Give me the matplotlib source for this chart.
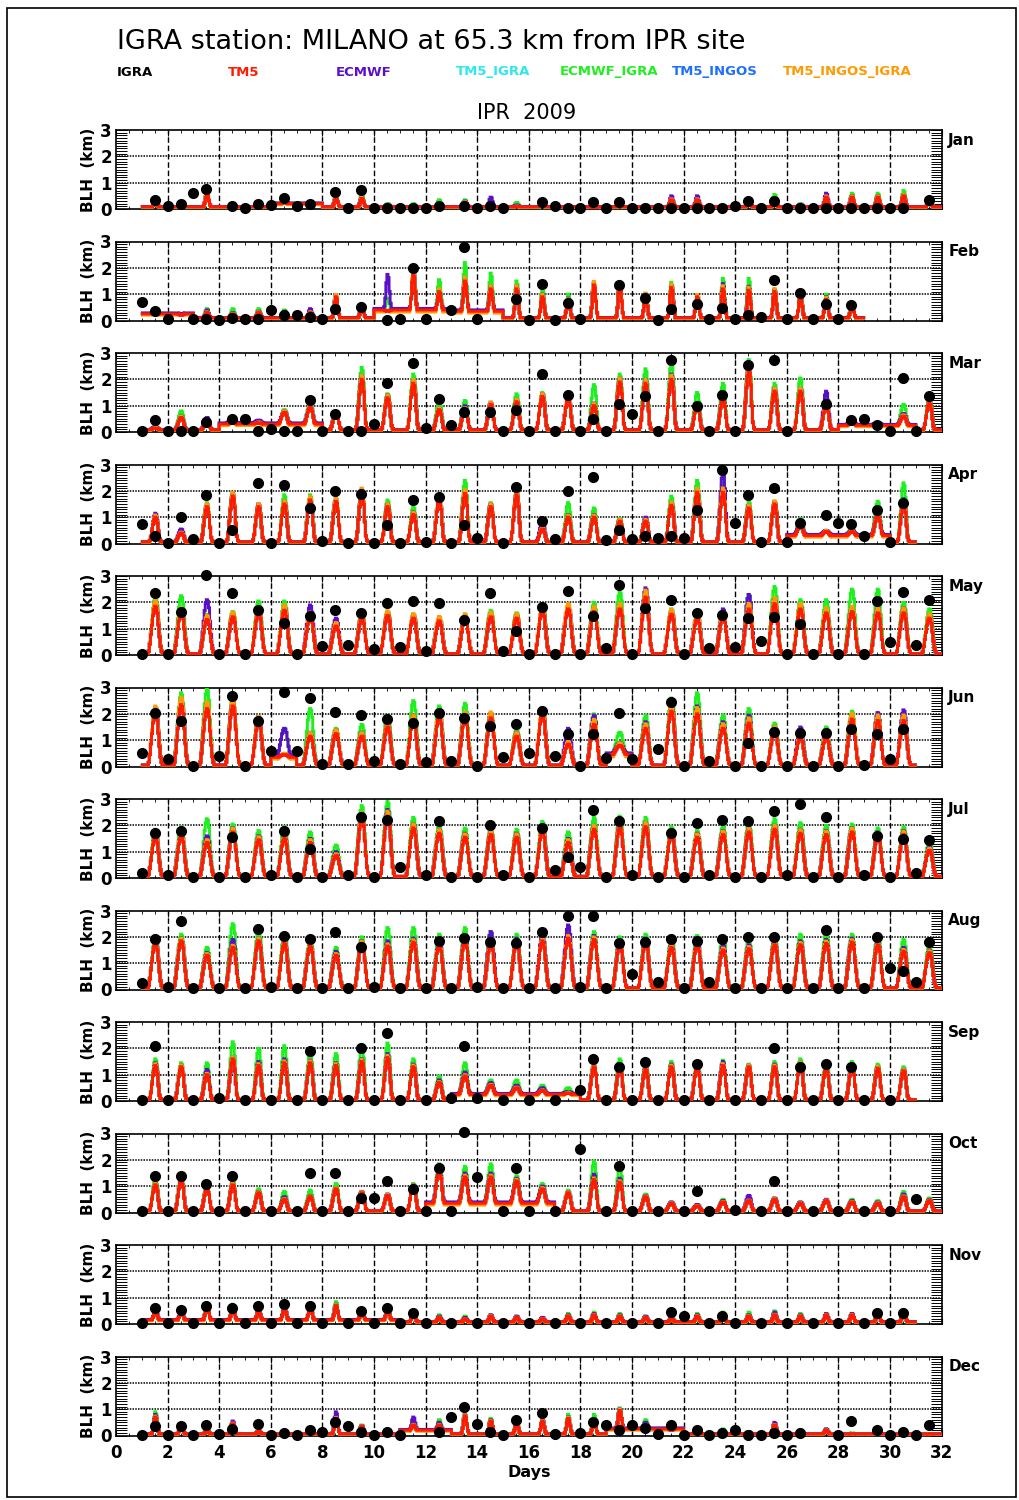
import numpy as np
import matplotlib.pyplot as plt
from matplotlib.ticker import MultipleLocator
from matplotlib.patches import Rectangle

nan = np.nan

MONTHS = ["Jan", "Feb", "Mar", "Apr", "May", "Jun",
          "Jul", "Aug", "Sep", "Oct", "Nov", "Dec"]
DAYS_IN_MONTH = [31, 28, 31, 30, 31, 30, 31, 31, 30, 31, 30, 31]

# daily afternoon maximum of boundary layer height (km), one row per month
TM5_PEAK = [
    [0.25,0.1,0.55,0.15,0.15,0.25,0.2,0.4,0.4,0.15,0.1,0.15,0.25,0.15,0.1,0.15,0.1,0.05,0.1,0.1,0.35,0.35,0.1,0.25,0.3,0.15,0.45,0.45,0.45,0.5,0.35],
    [0.25,0.2,0.3,0.25,0.3,0.25,0.3,0.9,0.5,0.35,1.8,1.1,1.5,1.2,1.2,0.9,0.75,1.35,1.35,0.95,1.25,0.9,1.2,1.15,1.1,0.95,0.8,0.55],
    [0.15,0.55,0.35,0.35,0.35,0.75,0.95,0.7,2.0,1.3,1.85,0.85,0.85,1.05,1.15,1.35,1.3,1.0,1.9,1.85,2.0,1.0,1.25,2.35,1.55,1.55,1.0,0.35,0.3,0.6,1.1],
    [1.0,0.4,1.4,1.8,1.4,1.5,1.65,1.6,1.95,1.4,1.1,1.7,1.9,1.4,1.85,0.55,1.0,1.0,0.85,0.85,1.45,1.95,1.95,1.35,1.5,0.65,0.45,0.45,1.05,1.55],
    [1.85,1.6,1.35,1.45,1.6,1.7,1.45,1.1,1.4,1.5,1.4,1.3,1.4,1.45,1.4,1.7,1.75,1.65,1.75,2.2,1.55,1.4,1.45,1.75,1.95,1.75,1.6,1.65,1.6,1.6,1.4],
    [2.05,2.35,2.2,2.3,1.7,0.45,1.15,1.25,1.15,1.5,1.75,1.9,1.85,1.85,1.15,2.0,0.85,1.6,0.8,1.45,2.1,2.0,1.45,1.65,1.35,1.1,1.1,1.8,1.75,1.75],
    [1.55,1.6,1.35,1.75,1.45,1.5,1.35,0.85,2.3,2.35,1.9,1.7,1.55,1.65,1.55,1.8,1.35,1.85,1.95,1.95,1.65,1.55,1.65,1.75,1.85,1.7,1.65,1.75,1.6,1.65,1.05],
    [1.75,1.85,1.3,1.6,1.85,1.75,1.65,1.3,1.75,1.65,1.8,1.7,1.85,1.75,1.8,1.85,1.95,1.9,1.7,1.8,1.6,1.7,1.5,1.55,1.7,1.7,1.75,1.8,1.7,1.45,1.4],
    [1.35,1.3,1.0,1.6,1.35,1.45,1.45,1.35,1.5,1.65,1.3,0.7,0.95,0.6,0.5,0.4,0.3,1.3,1.3,1.2,1.3,1.3,1.35,1.3,1.3,1.4,1.25,1.3,1.25,1.15],
    [1.05,1.25,0.9,1.05,0.75,0.5,0.6,0.9,0.75,0.65,1.0,1.6,1.35,1.35,1.2,0.9,0.75,1.25,1.15,0.6,0.35,0.25,0.4,0.45,0.5,0.35,0.45,0.4,0.35,0.6,0.45],
    [0.5,0.5,0.7,0.6,0.45,0.6,0.65,0.7,0.45,0.55,0.4,0.25,0.2,0.3,0.25,0.2,0.3,0.35,0.3,0.25,0.2,0.3,0.35,0.3,0.35,0.3,0.35,0.35,0.4,0.45],
    [0.7,0.35,0.15,0.45,0.15,0.05,0.1,0.65,0.35,0.1,0.4,0.4,0.75,0.55,0.45,0.55,0.65,0.55,0.95,0.4,0.2,0.1,0.15,0.1,0.4,0.15,0.2,0.05,0.1,0.05,0.05],
]

ECMWF_PEAK = [
    [0.25,0.12,0.6,0.18,0.18,0.28,0.25,0.45,0.45,0.18,0.15,0.2,0.3,0.45,0.15,0.18,0.12,0.08,0.12,0.15,0.5,0.5,0.12,0.3,0.35,0.18,0.6,0.5,0.5,0.55,0.4],
    [0.3,0.25,0.4,0.3,0.35,0.35,0.45,0.95,0.55,1.75,1.7,1.0,1.6,1.3,1.3,1.0,0.85,1.4,1.4,1.0,1.35,0.95,1.4,1.3,1.15,1.0,0.9,0.6],
    [0.2,0.6,0.55,0.6,0.45,0.8,1.0,0.75,2.1,1.4,1.9,0.9,1.0,1.1,1.2,1.45,1.35,1.1,2.0,2.0,2.2,1.1,1.4,2.45,1.6,1.65,1.55,0.45,0.35,0.7,1.2],
    [1.15,0.55,1.45,1.85,1.5,1.6,1.7,1.65,1.95,1.5,1.2,1.75,1.95,1.5,1.9,0.8,1.1,1.1,0.9,1.0,1.55,2.05,2.75,1.45,1.55,0.75,0.5,0.5,1.2,1.7],
    [1.9,1.7,2.1,1.5,1.7,1.8,1.9,1.4,1.5,1.55,1.45,1.35,1.45,1.5,1.5,1.75,1.8,1.75,1.85,2.55,1.6,1.5,1.75,2.3,2.1,1.85,1.7,1.8,1.8,1.8,1.5],
    [2.1,2.5,2.4,2.45,1.9,1.45,1.3,1.4,1.3,1.7,1.95,2.05,2.0,2.0,1.3,2.1,1.45,1.95,0.9,1.7,2.4,2.3,1.7,1.95,1.5,1.5,1.3,1.9,2.05,2.15],
    [1.7,1.75,1.6,1.9,1.6,1.65,1.5,1.0,2.45,2.6,2.05,1.85,1.7,1.75,1.7,1.95,1.5,2.0,2.1,2.1,1.8,1.7,1.8,1.9,2.0,1.85,1.8,1.9,1.75,1.8,1.2],
    [1.85,1.95,1.4,1.9,1.95,1.85,1.75,1.45,1.85,1.85,1.95,1.85,2.05,2.2,1.95,2.1,2.45,2.05,1.85,1.95,1.75,1.85,1.7,1.7,1.85,1.85,1.9,1.95,1.85,1.6,1.5],
    [1.45,1.35,1.2,1.5,1.5,1.6,1.55,1.45,1.6,1.8,1.4,0.8,1.1,0.7,0.6,0.5,0.35,1.35,1.35,1.3,1.4,1.4,1.5,1.35,1.4,1.45,1.35,1.4,1.3,1.2],
    [1.1,1.3,0.95,1.1,0.8,0.6,0.65,0.95,0.8,0.7,1.05,1.7,1.5,1.5,1.3,1.0,0.8,1.45,1.3,0.65,0.4,0.3,0.45,0.65,0.55,0.4,0.5,0.45,0.4,0.7,0.5],
    [0.55,0.55,0.75,0.65,0.55,0.7,0.7,0.75,0.5,0.6,0.45,0.3,0.25,0.35,0.3,0.25,0.35,0.4,0.35,0.3,0.25,0.35,0.4,0.35,0.45,0.35,0.4,0.4,0.45,0.5],
    [0.8,0.38,0.2,0.55,0.18,0.08,0.12,0.9,0.38,0.12,0.7,0.5,0.8,0.6,0.5,0.6,0.7,0.6,1.0,0.5,0.3,0.15,0.2,0.15,0.5,0.2,0.25,0.08,0.1,0.06,0.06],
]

ECMWF_IGRA_PEAK = [
    [0.3,0.15,0.5,0.2,0.2,0.3,0.25,0.5,0.55,0.2,0.2,0.35,0.35,0.2,0.25,0.2,0.12,0.08,0.12,0.12,0.4,0.45,0.12,0.35,0.55,0.2,0.55,0.6,0.6,0.7,0.45],
    [0.3,0.25,0.45,0.45,0.45,0.4,0.4,0.95,0.65,0.85,1.95,1.55,2.2,1.8,1.5,1.2,1.0,1.45,1.4,1.0,1.45,0.9,1.6,1.6,1.2,1.0,1.0,0.6],
    [0.2,0.8,0.45,0.4,0.4,0.85,1.1,0.75,2.45,1.45,2.2,1.25,1.2,1.05,1.45,1.5,1.3,1.8,2.2,2.4,2.65,1.5,1.85,2.75,1.85,2.05,1.3,0.55,0.35,1.05,1.3],
    [1.05,0.5,1.55,1.9,1.4,1.85,1.85,1.75,2.0,1.65,1.4,1.85,2.4,1.55,2.0,0.7,1.55,1.35,0.95,0.95,1.8,2.4,2.5,1.6,1.6,0.95,0.5,0.55,1.6,2.3],
    [2.2,2.25,1.55,1.65,2.05,2.05,1.6,1.3,1.6,1.6,1.55,1.45,1.4,1.7,1.6,1.9,1.95,2.0,2.4,2.45,1.75,1.6,1.6,2.3,2.6,2.1,2.1,2.5,2.5,2.0,1.75],
    [2.25,2.8,2.95,2.6,1.9,1.45,2.2,1.45,1.6,1.95,2.5,2.3,2.4,2.0,1.4,2.2,1.3,2.0,1.3,1.95,2.6,2.8,1.95,2.2,1.65,1.3,1.5,2.1,2.0,2.0],
    [1.85,1.95,2.25,2.05,1.8,1.95,1.75,1.25,2.75,2.9,2.3,2.05,1.9,1.9,1.85,2.15,1.75,2.3,2.35,2.3,1.95,1.8,2.0,2.1,2.25,2.1,2.0,2.05,1.9,1.95,1.4],
    [2.0,2.1,1.6,2.5,2.25,2.1,1.9,1.6,2.0,2.35,2.35,2.1,2.35,2.2,2.1,2.05,2.3,2.2,2.0,2.1,1.95,2.05,2.0,1.9,2.0,2.1,2.2,2.1,2.05,1.9,1.7],
    [1.6,1.45,1.45,2.25,2.0,2.1,1.9,1.8,2.15,2.2,1.6,0.95,1.45,0.8,0.8,0.6,0.5,1.4,1.6,1.4,1.5,1.5,1.55,1.4,1.5,1.6,1.5,1.5,1.4,1.3],
    [1.3,1.4,1.0,1.2,0.9,0.8,0.85,1.1,0.8,0.7,1.1,1.85,1.75,1.85,1.4,1.1,0.85,1.95,1.8,0.7,0.4,0.3,0.5,0.55,0.55,0.4,0.5,0.5,0.45,0.8,0.55],
    [0.6,0.55,0.8,0.75,0.6,0.8,0.75,0.85,0.55,0.6,0.5,0.35,0.3,0.35,0.3,0.25,0.4,0.45,0.4,0.3,0.3,0.4,0.45,0.45,0.5,0.4,0.4,0.4,0.45,0.55],
    [0.9,0.4,0.35,0.5,0.2,0.1,0.15,0.8,0.4,0.15,0.55,0.6,0.85,0.65,0.6,0.6,0.8,0.8,1.05,0.6,0.25,0.12,0.25,0.12,0.45,0.2,0.25,0.1,0.12,0.08,0.08],
]

# TM5 runs with other inputs, as a monthly ratio of their peaks to TM5
TM5_IGRA_SCALE = [1.0, 1.02, 1.0, 1.0, 1.02, 1.02, 1.0, 1.0, 1.0, 1.0, 1.0, 1.0]
TM5_INGOS_SCALE = [1.05, 1.05, 1.08, 1.06, 1.08, 1.08, 1.08, 1.05, 1.05, 1.05, 1.05, 1.05]
TM5_INGOS_IGRA_SCALE = [1.1, 1.1, 1.08, 1.08, 1.12, 1.12, 1.08, 1.05, 1.05, 1.05, 1.05, 1.05]

# night-time level (km) per month, and spells where the night stays higher
NIGHT_LEVEL = [0.08, 0.1, 0.08, 0.06, 0.05, 0.05, 0.06, 0.06, 0.05, 0.06, 0.08, 0.06]
RAISED_NIGHTS = [  # month, first day, last day, level
    (1, 6, 7, 0.2), (2, 1, 2, 0.25), (2, 10, 12, 0.4), (2, 13, 14, 0.35),
    (3, 4, 7, 0.3), (3, 28, 30, 0.25), (4, 26, 29, 0.3), (6, 6, 6, 0.35),
    (6, 19, 19, 0.45), (9, 13, 17, 0.25), (10, 12, 16, 0.35),
    (11, 1, 10, 0.15), (12, 11, 12, 0.2), (12, 19, 21, 0.25),
]

# hourly shape of the daily cycle, 0 at night, 1 at the afternoon maximum
PROFILE_WINTER = [0, 0, 0, 0, 0, 0, 0, 0, 0, 0.05, 0.3, 0.75, 1.0, 0.9, 0.5, 0.15, 0, 0, 0, 0, 0, 0, 0, 0]
PROFILE_SPRING = [0, 0, 0, 0, 0, 0, 0, 0.05, 0.2, 0.45, 0.7, 0.9, 1.0, 0.95, 0.75, 0.4, 0.12, 0.03, 0, 0, 0, 0, 0, 0]
PROFILE_SUMMER = [0, 0, 0, 0, 0, 0, 0.05, 0.2, 0.4, 0.6, 0.8, 0.93, 1.0, 0.97, 0.85, 0.6, 0.35, 0.15, 0.05, 0, 0, 0, 0, 0]
MONTH_PROFILE = ["W", "W", "S", "S", "U", "U", "U", "U", "S", "S", "W", "W"]

# IGRA radiosonde BLH at 00 and 12 UTC (km)
IGRA_00 = [
    [nan,0.1,0.6,nan,0.05,0.15,0.1,nan,0.05,0.05,0.03,0.05,nan,0.05,0.03,nan,0.12,0.03,0.03,0.05,0.03,0.03,0.03,0.1,0.05,0.05,0.03,0.03,0.03,0.03,nan],
    [0.71,0.05,0.05,0.03,0.05,0.38,0.22,0.05,nan,nan,0.05,0.05,0.4,0.05,nan,0.03,0.03,0.05,nan,nan,0.03,nan,0.05,0.05,0.15,0.05,0.05,0.05],
    [0.03,0.05,0.03,nan,0.48,0.1,0.05,0.05,0.05,0.3,nan,0.15,0.27,nan,0.03,0.05,0.03,0.03,0.03,0.7,0.03,nan,0.03,0.05,nan,0.03,nan,nan,0.48,0.05,0.05],
    [0.75,0.03,0.18,0.03,nan,0.03,nan,0.1,0.03,0.03,0.03,0.05,0.03,0.22,0.03,nan,0.16,nan,0.12,0.18,0.21,0.21,nan,0.79,0.05,0.05,nan,0.77,0.27,0.05],
    [0.03,0.03,nan,0.03,0.03,nan,0.03,0.34,0.38,0.22,0.29,0.16,nan,nan,0.15,0.03,0.03,0.03,0.25,0.03,nan,0.03,0.25,0.29,0.52,0.03,0.03,0.03,0.03,0.48,0.38],
    [0.52,0.29,0.03,0.38,0.03,0.6,0.6,0.1,0.1,0.22,0.1,0.16,0.22,0.03,0.35,0.52,0.38,0.03,0.31,0.29,0.67,0.03,0.21,0.03,0.03,0.03,0.03,0.03,0.05,0.29],
    [0.2,0.1,0.05,0.05,0.05,0.1,0.05,0.05,0.1,0.05,0.4,0.1,0.05,0.05,0.1,0.05,0.3,0.4,0.05,0.1,0.05,0.05,0.1,0.05,0.05,0.1,0.05,0.05,0.1,0.05,0.2],
    [0.25,0.1,0.05,0.05,0.05,0.1,0.05,0.05,0.05,0.1,0.05,0.05,0.05,0.1,0.05,0.05,0.05,0.1,0.05,0.6,0.3,0.05,0.3,0.05,0.05,0.05,0.05,0.05,0.05,0.8,0.3],
    [0.05,0.05,0.05,0.1,0.05,0.05,0.05,0.05,0.05,0.05,0.05,0.05,0.1,0.1,0.05,0.05,0.05,0.4,0.05,0.05,0.05,0.05,0.05,0.05,0.05,0.05,0.05,0.05,0.05,0.05],
    [0.05,0.05,0.05,0.05,0.05,0.05,0.05,0.05,0.05,0.55,0.05,0.05,0.05,1.35,0.05,0.05,0.05,2.4,0.05,0.05,0.05,0.05,0.05,0.1,0.05,0.05,0.05,0.05,0.05,0.05,0.5],
    [0.05,0.05,0.05,0.05,0.05,0.05,0.05,0.05,0.05,0.05,0.05,0.05,0.05,0.05,0.05,0.05,0.05,0.05,0.05,0.05,0.05,0.3,0.05,0.05,0.05,0.05,0.05,0.05,0.05,0.05],
    [0.03,0.03,0.02,0.05,nan,0.02,0.02,0.12,0.35,0.02,0.02,nan,0.7,0.45,0.02,nan,0.05,0.1,0.4,0.4,0.05,0.02,0.02,0.2,0.02,0.02,nan,0.02,nan,0.02,0.02],
]
IGRA_12 = [
    [0.34,0.2,0.75,0.1,0.2,0.42,0.2,0.65,0.72,0.05,0.05,0.1,0.1,0.12,nan,0.25,0.05,0.25,0.25,0.03,0.05,0.05,0.03,0.32,0.32,0.05,0.05,0.05,0.05,0.05,0.35],
    [0.35,nan,0.05,0.1,0.05,0.2,0.15,0.45,0.5,0.03,2.0,nan,2.78,nan,0.82,1.4,0.68,nan,1.35,0.85,0.45,0.62,0.48,0.2,1.55,1.05,0.62,0.58],
    [0.45,0.05,0.38,0.48,0.05,0.05,1.22,0.7,0.03,1.85,2.62,1.25,0.75,0.75,0.82,2.2,1.42,0.48,1.05,1.35,2.72,0.97,1.42,2.56,2.75,nan,1.06,0.44,0.25,2.05,1.35],
    [0.29,1.0,1.85,0.52,2.3,2.22,1.35,1.98,1.88,0.72,1.65,1.78,0.72,nan,2.15,0.85,2.0,2.52,0.5,0.27,0.29,1.29,2.81,1.85,2.12,0.79,1.1,0.75,1.29,1.52],
    [2.35,1.65,3.05,2.34,1.72,1.2,1.5,1.7,1.6,1.96,2.04,1.98,1.34,2.35,0.93,1.84,2.44,1.5,2.66,1.79,2.09,1.6,1.52,1.4,1.44,1.19,nan,nan,2.06,2.38,2.09],
    [2.02,1.72,nan,2.66,1.72,2.84,2.6,2.06,1.94,1.79,1.65,2.04,1.84,1.54,1.62,2.12,1.22,1.25,2.04,nan,2.44,nan,nan,0.9,1.3,1.27,1.29,1.44,1.25,1.42],
    [1.7,1.8,nan,1.55,nan,1.8,1.1,nan,2.3,2.2,nan,2.15,nan,2.0,nan,1.9,0.8,2.6,2.15,nan,1.7,2.1,2.2,2.15,2.55,2.8,2.3,nan,1.6,1.5,1.45],
    [1.9,2.6,nan,nan,2.3,2.05,1.9,2.2,1.6,nan,nan,1.85,1.95,1.8,1.75,2.2,2.8,2.8,1.75,1.8,1.9,1.85,1.9,2.0,2.0,nan,2.25,nan,2.0,0.7,1.8],
    [2.1,nan,nan,nan,nan,nan,1.9,nan,2.0,2.6,nan,nan,2.1,nan,nan,nan,nan,1.6,1.3,1.5,nan,1.4,nan,nan,2.0,1.3,1.4,1.3,nan,nan],
    [1.4,1.4,1.1,1.4,nan,nan,1.5,1.5,0.55,1.2,0.9,1.7,3.05,nan,1.7,nan,nan,nan,1.75,nan,nan,0.8,nan,nan,1.2,nan,nan,nan,nan,nan,nan],
    [0.6,0.55,0.7,0.6,0.7,0.75,0.7,nan,0.5,0.6,0.4,nan,nan,nan,nan,nan,nan,nan,nan,nan,0.45,nan,0.3,nan,nan,nan,nan,nan,0.4,0.4],
    [0.35,0.35,0.4,0.25,0.45,0.1,0.2,0.5,0.12,0.15,nan,0.15,1.1,0.15,0.6,0.85,nan,0.5,0.2,0.3,0.4,0.2,0.08,0.02,0.08,0.08,nan,0.55,0.2,0.15,0.4],
]

SERIES_NAMES = ["IGRA", "TM5", "ECMWF", "TM5_IGRA", "ECMWF_IGRA", "TM5_INGOS", "TM5_INGOS_IGRA"]
SERIES_COLORS = ["black", "#ff1a00", "#5a10c8", "#2ee8f0", "#1ef01e", "#1f6fff", "#ff9a00"]


def hourly_series(peaks, night, profile):
    prof = np.asarray(profile)
    out = [n + (p - n) * prof for p, n in zip(peaks, night)]
    return np.concatenate(out)


fig = plt.figure(figsize=(10.19, 15.0), dpi=100)
W, H = 1019.0, 1500.0

# thin frame round the page
fig.patches.append(Rectangle((7 / W, 1 - 1497 / H), 1009 / W, 1489 / H,
                             transform=fig.transFigure, fill=False,
                             edgecolor="black", linewidth=1.2))

fig.text(117 / W, 1 - 42 / H, "IGRA station: MILANO at 65.3 km from IPR site",
         fontsize=19.5, va="center", ha="left")
legend_x = [117, 228, 336, 456, 560, 672, 783]
for name, color, x in zip(SERIES_NAMES, SERIES_COLORS, legend_x):
    fig.text(x / W, 1 - 72 / H, name, color=color, fontsize=9.5,
             fontweight="bold", va="center", ha="left")
fig.text(527 / W, 1 - 113 / H, "IPR  2009", fontsize=15, va="center", ha="center")

ax_left, ax_width = 116 / W, 825.6 / W
profiles = {"W": PROFILE_WINTER, "S": PROFILE_SPRING, "U": PROFILE_SUMMER}

for m in range(12):
    top = 130 + 111.5 * m
    ax = fig.add_axes([ax_left, 1 - (top + 79) / H, ax_width, 79 / H])
    nd = DAYS_IN_MONTH[m]

    night = np.full(nd, NIGHT_LEVEL[m])
    for mon, d0, d1, lev in RAISED_NIGHTS:
        if mon == m + 1:
            night[d0 - 1:d1] = lev

    prof = profiles[MONTH_PROFILE[m]]
    t = 1 + (np.arange(nd * 24) + 0.5) / 24.0
    tm5 = np.asarray(TM5_PEAK[m][:nd])
    runs = [
        (hourly_series(tm5 * TM5_IGRA_SCALE[m], night, prof), SERIES_COLORS[3]),
        (hourly_series(ECMWF_IGRA_PEAK[m][:nd], night * 1.1, prof), SERIES_COLORS[4]),
        (hourly_series(tm5 * TM5_INGOS_SCALE[m], night, prof), SERIES_COLORS[5]),
        (hourly_series(ECMWF_PEAK[m][:nd], night * 1.15, prof), SERIES_COLORS[2]),
        (hourly_series(tm5 * TM5_INGOS_IGRA_SCALE[m], night * 0.8, prof), SERIES_COLORS[6]),
        (hourly_series(tm5, night, prof), SERIES_COLORS[1]),
    ]
    for k, (y, c) in enumerate(runs):
        ax.plot(t, y, color=c, lw=2.1, drawstyle="steps-mid", zorder=3 + k,
                solid_joinstyle="miter")

    days = np.arange(1, nd + 1)
    ax.plot(days, IGRA_00[m][:nd], "o", color="black", ms=7, zorder=20, clip_on=False)
    ax.plot(days + 0.5, IGRA_12[m][:nd], "o", color="black", ms=7, zorder=20, clip_on=False)

    # grid: dotted at 1 and 2 km, dashed every second day
    for yv in (1, 2):
        ax.axhline(yv, color="black", lw=1.1, ls=(0, (1, 0.8)), zorder=2)
    for xv in range(2, 32, 2):
        ax.axvline(xv, color="black", lw=1.0, ls=(0, (4, 2)), zorder=2)

    ax.set_xlim(0, 32)
    ax.set_ylim(0, 3)
    ax.set_yticks([0, 1, 2, 3])
    ax.yaxis.set_minor_locator(MultipleLocator(0.1))
    ax.xaxis.set_major_locator(MultipleLocator(2))
    ax.xaxis.set_minor_locator(MultipleLocator(0.5))
    ax.tick_params(axis="y", which="both", direction="in", left=True, right=True,
                   length=8, width=0.7, labelsize=12, pad=3)
    ax.tick_params(axis="x", which="major", direction="in", top=True, bottom=True,
                   length=4, width=0.8, labelsize=12, pad=6)
    ax.tick_params(axis="x", which="minor", direction="in", top=True, bottom=True,
                   length=2, width=0.6)
    for lab in ax.get_xticklabels() + ax.get_yticklabels():
        lab.set_fontweight("bold")
    for sp in ax.spines.values():
        sp.set_linewidth(1.2)
    if m < 11:
        ax.set_xticklabels([])
    else:
        ax.set_xlabel("Days", fontsize=11.5, fontweight="bold", labelpad=2)
    ax.set_ylabel("BLH  (km)", fontsize=11, fontweight="bold", labelpad=3)
    ax.text(1.008, 0.87, MONTHS[m], transform=ax.transAxes, fontsize=11,
            fontweight="bold", ha="left", va="center")

fig.savefig("out.png", dpi=100)
